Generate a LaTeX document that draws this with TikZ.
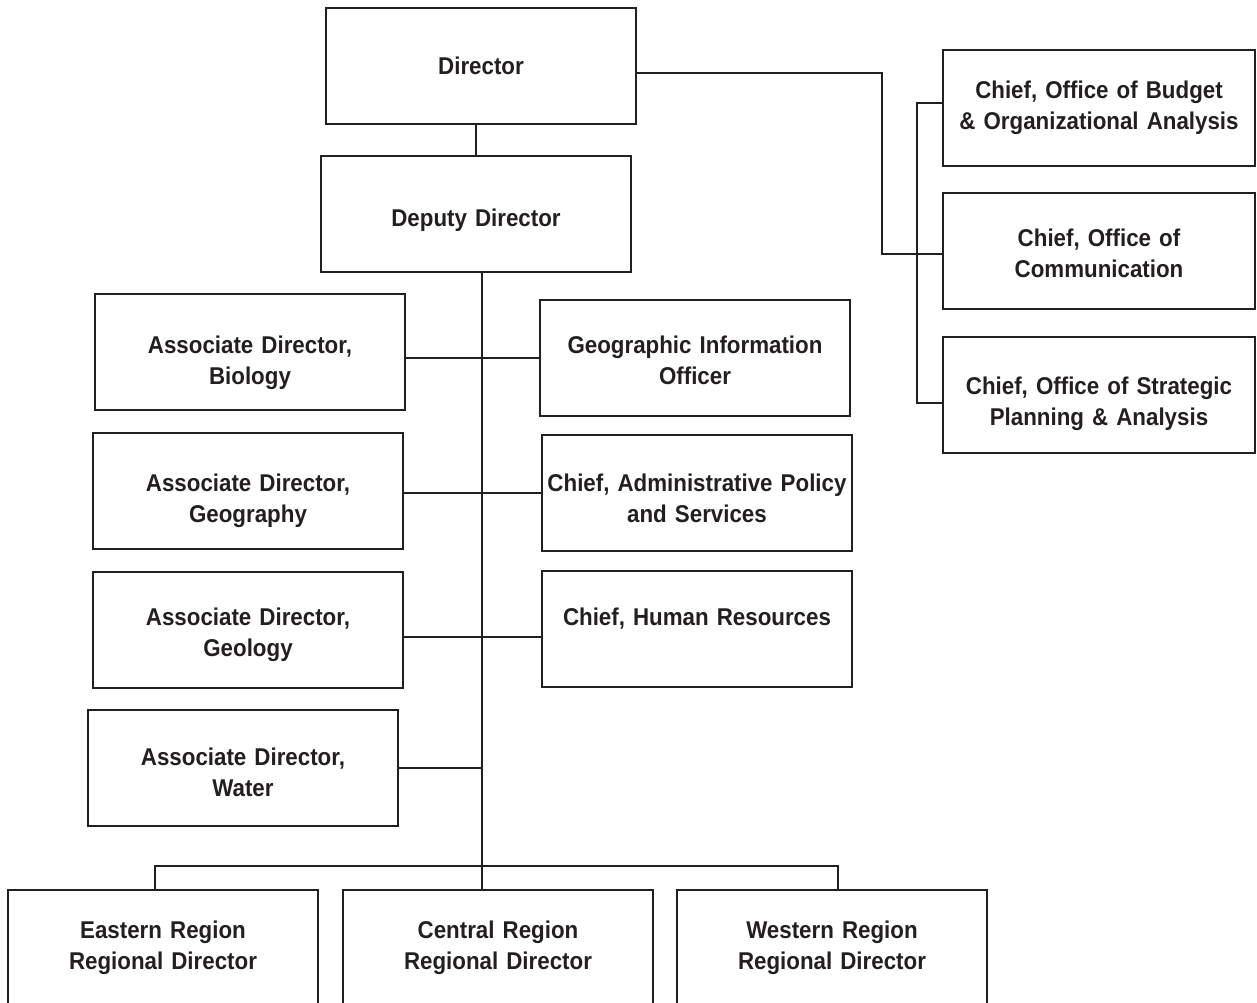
\documentclass[tikz,border=0pt]{standalone}
\usepackage{fontspec}
\setmainfont{Liberation Sans}[FakeStretch=0.92, WordSpace=0.75]
\usepackage{xcolor}
\usepackage{tikz}
\usetikzlibrary{positioning,calc}

\definecolor{ink}{HTML}{231F20}
\newcommand{\orgfont}{\fontsize{6.9}{8.8}\selectfont\bfseries}

\begin{document}
\begin{tikzpicture}[
  x=0.01cm, y=-0.01cm,
  unit/.style={draw=ink, text=ink, line width=0.6pt, minimum width=3.1cm, minimum height=1.16cm, text width=3.05cm, inner sep=0pt, align=center, font=\orgfont},
  sink/.style={execute at begin node={\rule{0pt}{\dimexpr 4.95pt+0.569pt*#1\relax}}},
  link/.style={draw=ink, line width=0.6pt},
]
\useasboundingbox (0,0) rectangle (1257,1003);

% top of the chart
\node[unit] (director) at (481,66) {Director};
\node[unit, sink=6] (deputy) at (476,214) {Deputy Director};

% associate directors and chiefs
\node[unit, sink=11] (bio) at (250,352) {Associate Director,\\Biology};
\node[unit, sink=2] (gio) at (695,358) {Geographic Information\\Officer};
\node[unit, sink=10] (geog) at (248,491) {Associate Director,\\Geography};
\node[unit, sink=5] (admin) at (697,493) {Chief, Administrative Policy\\and Services};
\node[unit, sink=5] (geol) at (248,630) {Associate Director,\\Geology};
\node[unit, sink=3] (hr) at (697,629) {Chief, Human Resources\\\mbox{}};
\node[unit, sink=4] (water) at (243,768) {Associate Director,\\Water};

% regions
\node[unit] (eastern) at (163,948) {Eastern Region\\Regional Director};
\node[unit] (central) at (498,948) {Central Region\\Regional Director};
\node[unit] (western) at (832,948) {Western Region\\Regional Director};

% staff offices
\node[unit, minimum width=3.12cm] (budget) at (1099,108) {Chief, Office of Budget\\\& Organizational Analysis};
\node[unit, minimum width=3.12cm, sink=2] (comm) at (1099,251) {Chief, Office of\\Communication};
\node[unit, minimum width=3.12cm, sink=9] (strategic) at (1099,395) {Chief, Office of Strategic\\Planning \& Analysis};

\coordinate (spine) at (482,866);
\coordinate (busW) at (155,866);
\coordinate (busE) at (838,866);
\coordinate (tap) at (882,254);

\draw[link] (deputy.north) -- (deputy.north |- director.south);
\draw[link] (deputy.south -| spine) -- (spine);
\draw[link] (gio.west) -- (gio.west -| bio.east);
\draw[link] (admin.west) -- (admin.west -| geog.east);
\draw[link] ([yshift=-0.07cm]geol.east) -- ([yshift=-0.07cm]geol.east -| hr.west);
\draw[link] (water.east) -- (water.east -| spine);
\draw[link] (busW |- eastern.north) -- (busW) -- (busE) -- (busE |- western.north);
\draw[link] (spine) -- (spine |- central.north);
\draw[link] ([yshift=-0.07cm]director.east) -| (tap) -- (tap -| comm.west);
\draw[link] ([yshift=0.05cm]budget.west) -- ++(-25,0) |- ([yshift=-0.08cm]strategic.west);
\end{tikzpicture}
\end{document}
